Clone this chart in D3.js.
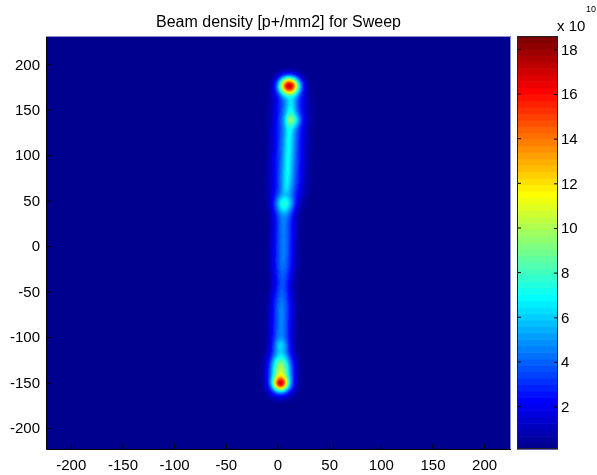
<!DOCTYPE html>
<html>
<head>
<meta charset="utf-8">
<script src="https://cdn.jsdelivr.net/npm/d3@7"></script>
<style>
  body { margin: 0; background: #fff; }
  #wrap { position: relative; width: 597px; height: 475px; }
  #wrap canvas, #wrap svg { position: absolute; left: 0; top: 0; }
  text { font-family: "Liberation Sans", Arial, Helvetica, sans-serif; fill: #000; }
</style>
</head>
<body>
<div id="wrap">
  <canvas id="heat" width="597" height="475"></canvas>
  <svg id="chart" width="597" height="475"></svg>
</div>
<script>
// ---- Sweep path: straight pieces of the beam centre line (mm) ----
// level = dwell density along the piece (x1e10 p+/mm2), sigma = beam width (mm)
const segX0    = [12.6, 13.3,  6.8,   5.3,   4.4,    3.4,    3.4];
const segY0    = [170,  162,   54,   -31.7, -51.5, -110.9, -122];
const segX1    = [ 9.2,  8.5,  5.3,   4.4,   3.4,    3.4,    3.3];
const segY1    = [ 54,   60,  -31.7, -51.5, -110.9, -122,  -158];
const segLevel = [ 5.2,  1.6,  4.4,   3.3,   4.5,    3.8,   10.5];
const segSigma = [ 9.5,  3.0,  7.0,   6.0,   7.0,    7.0,    7.5];

// ---- Turning points where the beam dwells (extra density) ----
const spotX     = [11.4, 15.3,  6.5,    3.1,    3.1];
const spotY     = [177.1, 139.4, 47,  -108.7, -150.8];
const spotAmp   = [15.8,  3.0,  2.6,    1.6,    8.0];
const spotSigma = [ 7.0,  5.0,  7.0,    5.0,    5.0];

// ---- Grid, colour limits and ticks ----
const background = 0.1;              // x1e10 p+/mm2
const xExtent = [-224, 226];         // mm
const yExtent = [-223, 231];         // mm
const gridStep = 1;                  // mm
const colorLimits = [0.1, 18.6];     // x1e10
const xTicks = [-200, -150, -100, -50, 0, 50, 100, 150, 200];
const yTicks = [-200, -150, -100, -50, 0, 50, 100, 150, 200];
const cbTicks = [2, 4, 6, 8, 10, 12, 14, 16, 18];
const titleText = "Beam density [p+/mm2] for Sweep";

// ---- Layout ----
const plot = { left: 46, right: 511, top: 36, bottom: 449 };
const cbar = { left: 517, right: 558, top: 36, bottom: 449 };

// MATLAB-style jet colormap with 64 entries
function jet64(k) {
  const row = k + 1;
  let r = 0, g = 0, b = 0;
  if (row <= 8) b = (row + 8) / 16;
  else if (row <= 24) b = 1;
  else if (row <= 39) b = (40 - row) / 16;
  if (row >= 9 && row <= 24) g = (row - 8) / 16;
  else if (row > 24 && row <= 40) g = 1;
  else if (row > 40 && row <= 55) g = (56 - row) / 16;
  if (row >= 25 && row <= 40) r = (row - 24) / 16;
  else if (row > 40 && row <= 56) r = 1;
  else if (row > 56) r = (72 - row) / 16;
  return d3.rgb(Math.round(r * 255), Math.round(g * 255), Math.round(b * 255)).toString();
}
const jetColors = d3.range(64).map(jet64);

function colorIndex(v) {
  const t = (v - colorLimits[0]) / (colorLimits[1] - colorLimits[0]);
  return Math.max(0, Math.min(63, Math.floor(t * 64)));
}

function erf(x) {
  const s = x < 0 ? -1 : 1;
  x = Math.abs(x);
  const t = 1 / (1 + 0.3275911 * x);
  const y = 1 - (((((1.061405429 * t - 1.453152027) * t) + 1.421413741) * t - 0.284496736) * t + 0.254829592) * t * Math.exp(-x * x);
  return s * y;
}

// density at a point: background + swept lines + dwell spots
function density(px, py) {
  let v = background;
  for (let i = 0; i < segX0.length; i++) {
    const dx = segX1[i] - segX0[i], dy = segY1[i] - segY0[i];
    const L = Math.hypot(dx, dy), ux = dx / L, uy = dy / L;
    const rx = px - segX0[i], ry = py - segY0[i];
    const t = rx * ux + ry * uy;
    const d = -rx * uy + ry * ux;
    const s = segSigma[i];
    if (Math.abs(d) > 5 * s) continue;
    const k = Math.SQRT2 * s;
    v += segLevel[i] * Math.exp(-d * d / (2 * s * s)) * 0.5 * (erf(t / k) - erf((t - L) / k));
  }
  for (let i = 0; i < spotX.length; i++) {
    const dx = px - spotX[i], dy = py - spotY[i], s = spotSigma[i];
    v += spotAmp[i] * Math.exp(-(dx * dx + dy * dy) / (2 * s * s));
  }
  return v;
}

const x = d3.scaleLinear().domain(xExtent).range([plot.left, plot.right]);
const y = d3.scaleLinear().domain(yExtent).range([plot.bottom, plot.top]);
const cy = d3.scaleLinear().domain(colorLimits).range([cbar.bottom, cbar.top]);

// ---- Heat map cells on canvas ----
const ctx = document.getElementById("heat").getContext("2d");
ctx.fillStyle = jetColors[colorIndex(background)];
ctx.fillRect(x(xExtent[0]), y(yExtent[1]), x(xExtent[1]) - x(xExtent[0]), y(yExtent[0]) - y(yExtent[1]));
for (let gx = xExtent[0]; gx < xExtent[1]; gx += gridStep) {
  for (let gy = yExtent[0]; gy < yExtent[1]; gy += gridStep) {
    const v = density(gx + gridStep / 2, gy + gridStep / 2);
    const ci = colorIndex(v);
    if (ci === colorIndex(background)) continue;
    ctx.fillStyle = jetColors[ci];
    const x0 = x(gx), x1 = x(gx + gridStep);
    const y0 = y(gy + gridStep), y1 = y(gy);
    ctx.fillRect(x0, y0, x1 - x0 + 0.6, y1 - y0 + 0.6);
  }
}

// ---- Colour bar on canvas ----
const step = (colorLimits[1] - colorLimits[0]) / 64;
d3.range(64).forEach(k => {
  const v0 = colorLimits[0] + k * step, v1 = v0 + step;
  ctx.fillStyle = jetColors[k];
  ctx.fillRect(cbar.left, cy(v1), cbar.right - cbar.left, cy(v0) - cy(v1) + 0.6);
});

// ---- Axes, labels and frames ----
const svg = d3.select("#chart");
const plain = d => String(d);

const xAxis = svg.append("g")
  .attr("transform", `translate(0,${plot.bottom})`)
  .call(d3.axisBottom(x).tickValues(xTicks).tickFormat(plain).tickSizeInner(-5).tickSizeOuter(0).tickPadding(10));
xAxis.select(".domain").remove();
xAxis.selectAll("line").attr("stroke", "#000");
xAxis.selectAll("text").attr("font-size", 15).attr("fill", "#000");

const yAxis = svg.append("g")
  .attr("transform", `translate(${plot.left},0)`)
  .call(d3.axisLeft(y).tickValues(yTicks).tickFormat(plain).tickSizeInner(-5).tickSizeOuter(0).tickPadding(6));
yAxis.select(".domain").remove();
yAxis.selectAll("line").attr("stroke", "#000");
yAxis.selectAll("text").attr("font-size", 15).attr("fill", "#000");

// frame of the image axes
svg.append("path")
  .attr("d", `M${plot.left + 0.5},${plot.top}V${plot.bottom + 0.5}H${plot.right}`)
  .attr("fill", "none").attr("stroke", "#000").attr("stroke-width", 1);
svg.append("path")
  .attr("d", `M${plot.left},${plot.top + 0.5}H${plot.right - 0.5}V${plot.bottom}`)
  .attr("fill", "none").attr("stroke", "#8f8fc8").attr("stroke-width", 1);

// colour bar axis
const cAxis = svg.append("g")
  .attr("transform", `translate(${cbar.right},0)`)
  .call(d3.axisRight(cy).tickValues(cbTicks).tickFormat(plain).tickSizeInner(-4).tickSizeOuter(0).tickPadding(3));
cAxis.select(".domain").remove();
cAxis.selectAll("line").attr("stroke", "#000");
cAxis.selectAll("text").attr("font-size", 15).attr("fill", "#000");
svg.append("g").selectAll("line").data(cbTicks).join("line")
  .attr("x1", cbar.left).attr("x2", cbar.left + 4)
  .attr("y1", d => cy(d)).attr("y2", d => cy(d))
  .attr("stroke", "#000");
svg.append("rect")
  .attr("x", cbar.left + 0.5).attr("y", cbar.top + 0.5)
  .attr("width", cbar.right - cbar.left - 1).attr("height", cbar.bottom - cbar.top - 1)
  .attr("fill", "none").attr("stroke", "#222").attr("stroke-width", 1);

// exponent label
svg.append("text").attr("x", 557).attr("y", 31).attr("font-size", 15).text("x 10");
svg.append("text").attr("x", 586).attr("y", 12).attr("font-size", 9).text("10");

// title
svg.append("text")
  .attr("x", (plot.left + plot.right) / 2).attr("y", 27)
  .attr("text-anchor", "middle").attr("font-size", 16)
  .text(titleText);
</script>
</body>
</html>
